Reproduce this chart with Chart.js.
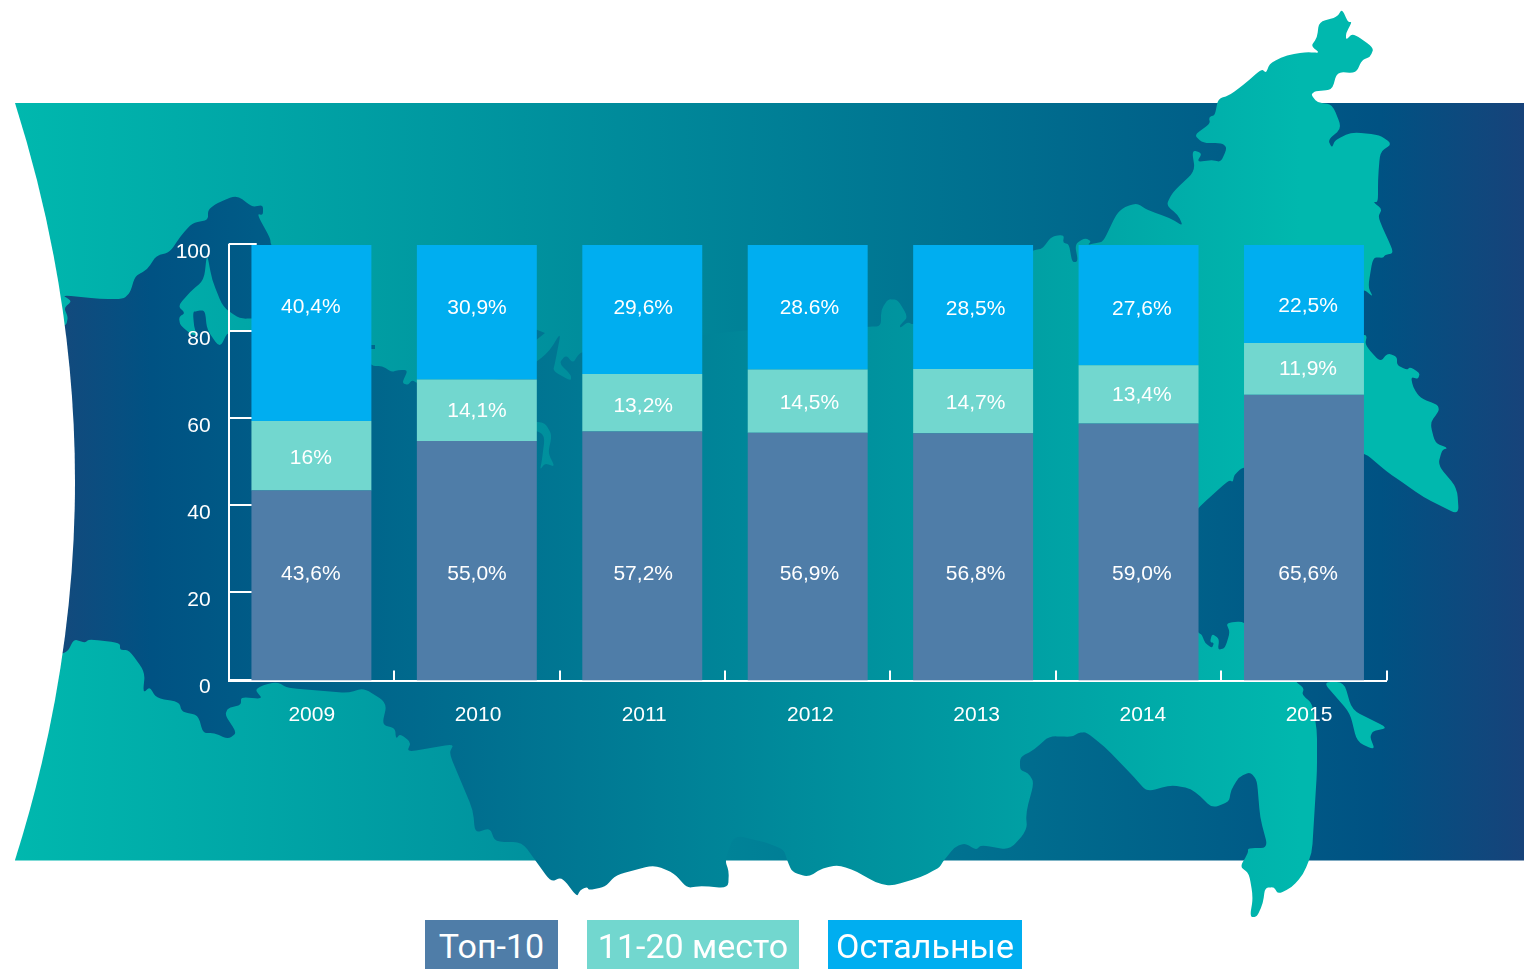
<!DOCTYPE html>
<html lang="ru">
<head>
<meta charset="utf-8">
<title>Доли рынка</title>
<script src="https://cdn.jsdelivr.net/npm/chart.js@4"></script>
<style>
html,body{margin:0;padding:0;background:#fff;width:1524px;height:969px;overflow:hidden}
#map,#c{position:absolute;left:0;top:0}
.lg{position:absolute;top:920px;height:49px;color:#fff;text-align:center;font:400 34px/53px Roboto,sans-serif;white-space:nowrap}
</style>
</head>
<body>
<svg id="map" width="1524" height="969" viewBox="0 0 1524 969" xmlns="http://www.w3.org/2000/svg">
<defs>
<linearGradient id="sea" gradientUnits="userSpaceOnUse" x1="15" y1="0" x2="1524" y2="0">
<stop offset="0" stop-color="#00b8ae"/><stop offset=".905" stop-color="#005283"/><stop offset="1" stop-color="#17437a"/>
</linearGradient>
<linearGradient id="land" gradientUnits="userSpaceOnUse" x1="65" y1="0" x2="1300" y2="0">
<stop offset="0" stop-color="#124a7d"/><stop offset=".07" stop-color="#005283"/><stop offset="1" stop-color="#00b8ae"/>
</linearGradient>
</defs>
<rect x="15" y="103" width="1509" height="757.5" fill="url(#sea)"/>
<polygon class="coast" fill="url(#land)" points="50,326 66,326 68,317 64,308 72,301 62,295 100,299 123,299 130,293 135,276 147,270 156,256 170,252 180,237 192,223 208,220 208,210 217,203 237,195 252,207 263,205 263,215 257,214 270,238 271,245 300,300 372,366 382,366 392,372 398,370 408,370 402,383 408,385 412,380 417,383 500,380 537,362 550,350 561,332 555,363 553,371 571,381 571,375 559,363 566,355 573,363 578,355 582,352 702,335 748,330 868,327 881,326 881,310 888,299 898,300 908,317 900,325 900,328 908,322 913,325 1033,250 1042,249 1052,236 1064,235 1063,243 1069,244 1072,262 1078,262 1075,244 1085,238 1091,241 1088,245 1095,243 1103,242 1117,213 1125,207 1137,203 1147,210 1170,218 1183,226 1178,215 1166,205 1173,192 1195,171 1192,150 1202,153 1197,162 1212,160 1221,162 1227,148 1222,143 1203,143 1194,135 1210,124 1209,117 1215,115 1218,99 1230,95 1243,85 1262,69 1266,73 1270,63 1287,55 1307,52 1320,53 1311,46 1317,38 1319,22 1337,17 1342,9 1348,22 1352,22 1346,33 1346,40 1353,33 1374,48 1370,57 1362,60 1356,73 1337,72 1332,90 1315,91 1311,95 1318,103 1332,104 1342,128 1328,140 1332,148 1335,140 1352,132 1380,135 1392,144 1380,152 1378,180 1378,202 1373,202 1382,209 1378,217 1385,233 1394,253 1385,255 1383,258 1373,257 1368,287 1373,297 1365,290 1360,292 1360,335 1367,335 1365,345 1380,362 1388,353 1397,357 1397,365 1407,370 1410,367 1420,373 1418,379 1411,377 1413,387 1420,398 1438,405 1439,411 1430,423 1435,443 1448,448 1442,450 1438,465 1457,488 1459,515 1423,497 1402,482 1387,472 1364,452 1300,460 1243,467 1234,475 1233,482 1229,480 1199,507 1190,520 1190,625 1199,633 1202,635 1205,643 1212,648 1214,643 1210,642 1212,634 1217,637 1219,640 1218,650 1225,648 1230,632 1226,623 1244,621 1280,660 1296,682 1304,688 1302,695 1312,703 1317,730 1317,770 1312,853 1303,875 1291,888 1278,894 1274,887 1265,888 1263,903 1257,917 1250,917 1253,897 1249,873 1240,867 1248,853 1248,848 1268,848 1260,817 1257,780 1250,772 1239,777 1231,790 1229,802 1212,808 1199,795 1189,788 1170,785 1147,792 1134,777 1105,747 1086,732 1078,733 1072,737 1049,736 1034,750 1020,757 1020,770 1028,773 1034,782 1026,813 1027,830 1010,850 981,845 976,850 965,843 955,847 944,860 939,868 921,877 892,886 876,883 858,872 839,865 823,868 808,877 792,872 787,860 784,850 768,843 734,835 725,860 729,872 728,888 700,886 687,888 674,873 654,865 616,875 605,887 589,890 587,887 580,890 577,897 562,877 551,882 522,842 495,842 490,828 475,833 473,810 449,753 454,744 407,752 411,742 400,734 396,739 395,728 382,725 387,703 364,688 348,693 288,688 277,682 263,685 255,690 263,699 241,697 241,705 228,708 225,715 237,733 228,739 214,733 203,733 198,715 182,712 179,702 156,698 150,687 143,693 145,672 129,650 120,650 120,643 89,639 85,643 74,639 67,653 50,655"/>
<polygon class="coast" fill="url(#land)" points="1323,682 1344,682 1352,710 1388,728 1373,731 1370,737 1375,750 1357,742 1350,713"/>
<polygon class="coast" fill="url(#sea)" points="207,253 204,280 190,292 178,306 185,313 179,317 180,325 192,335 197,335 194,327 193,312 197,311 205,310 207,330 220,348 228,331 260,331 260,318 240,319 223,307 212,280"/>
<polygon class="coast" fill="url(#sea)" points="530,421 545,423 552,435 548,453 555,467 545,463 540,470 542,460 545,435 530,428"/>
<polygon fill="url(#land)" points="530,327 545,333 530,345"/>
<rect x="370" y="345" width="5" height="4" fill="url(#land)"/>
<path fill="#fff" d="M0 100 L15 103 Q135 481.5 15 860 L0 860Z"/>
</svg>
<canvas id="c" width="1524" height="969"></canvas>
<script>
// ---- data ----
const years = ['2009', '2010', '2011', '2012', '2013', '2014', '2015'];
const seriesNames = ['Топ-10', '11-20 место', 'Остальные'];
const top10 = [43.6, 55.0, 57.2, 56.9, 56.8, 59.0, 65.6];
const place11to20 = [16, 14.1, 13.2, 14.5, 14.7, 13.4, 11.9];
const others = [40.4, 30.9, 29.6, 28.6, 28.5, 27.6, 22.5];
const top10Labels = ['43,6%', '55,0%', '57,2%', '56,9%', '56,8%', '59,0%', '65,6%'];
const place11to20Labels = ['16%', '14,1%', '13,2%', '14,5%', '14,7%', '13,4%', '11,9%'];
const othersLabels = ['40,4%', '30,9%', '29,6%', '28.6%', '28,5%', '27,6%', '22,5%'];
const yTicks = [0, 20, 40, 60, 80, 100];

// ---- where the printed labels sit, in axis units ----
const top10LabelLevels = [24.8, 24.8, 24.8, 24.8, 24.8, 24.8, 24.8];
const place11to20LabelLevels = [51.4, 62.2, 63.3, 64, 64, 65.8, 71.8];
const othersLabelLevels = [86, 85.8, 85.8, 85.8, 85.5, 85.5, 86.2];

// ---- styling ----
const colors = ['#4f7da8', '#72d7cf', '#00aef0'];
const font = {family: "'Liberation Sans', Arial, sans-serif", size: 21};
const legendBoxes = [[425, 133], [587, 212], [828, 194]];

// soften the straight runs of the decorative coastline
document.querySelectorAll('polygon.coast').forEach(poly => {
  const p = poly.getAttribute('points').trim().split(/\s+/).map(s => s.split(',').map(Number));
  const n = p.length;
  let d = '';
  p.forEach((c, i) => {
    const a = p[(i + n - 1) % n], b = p[(i + 1) % n];
    const la = Math.hypot(a[0] - c[0], a[1] - c[1]), lb = Math.hypot(b[0] - c[0], b[1] - c[1]);
    const ca = Math.min(la * 0.35, 9) / la, cb = Math.min(lb * 0.35, 9) / lb;
    const s = [c[0] + (a[0] - c[0]) * ca, c[1] + (a[1] - c[1]) * ca];
    const e = [c[0] + (b[0] - c[0]) * cb, c[1] + (b[1] - c[1]) * cb];
    d += (i ? 'L' : 'M') + s[0].toFixed(1) + ' ' + s[1].toFixed(1) +
      'Q' + c[0] + ' ' + c[1] + ' ' + e[0].toFixed(1) + ' ' + e[1].toFixed(1);
  });
  const path = document.createElementNS('http://www.w3.org/2000/svg', 'path');
  path.setAttribute('d', d + 'Z');
  path.setAttribute('fill', poly.getAttribute('fill'));
  poly.replaceWith(path);
});

const axisFurniture = {
  id: 'axisFurniture',
  afterLayout(chart) {
    // the year captions are spaced slightly wider than the bars in the source
    const s = chart.scales.xl;
    s.right = s.left + (chart.scales.x.right - chart.scales.x.left) * 1.0047;
    s.width = s.right - s.left;
    s.configure();
  },
  beforeDatasetsDraw(chart) {
    const {ctx, scales: {x, y}} = chart;
    ctx.save();
    ctx.strokeStyle = '#fff';
    ctx.lineWidth = 2;
    ctx.beginPath();
    yTicks.forEach(v => {
      const py = Math.round(y.getPixelForValue(v));
      ctx.moveTo(x.left, py - 1);
      ctx.lineTo(x.left + 28, py - 1);
    });
    const band = (x.right - x.left) / years.length;
    for (let i = 1; i <= years.length; i++) {
      const px = Math.round(x.getPixelForValue(i - 1) + band / 2);
      ctx.moveTo(px, y.bottom);
      ctx.lineTo(px, y.bottom - 10);
    }
    ctx.stroke();
    ctx.restore();
  },
  afterDatasetsDraw(chart) {
    const {ctx, scales: {xl, y}} = chart;
    ctx.save();
    ctx.fillStyle = '#fff';
    ctx.font = font.size + 'px ' + font.family;
    ctx.textAlign = 'center';
    ctx.textBaseline = 'middle';
    [[top10Labels, top10LabelLevels], [place11to20Labels, place11to20LabelLevels], [othersLabels, othersLabelLevels]]
      .forEach(([texts, levels]) => texts.forEach((t, i) => {
        ctx.fillText(t, xl.getPixelForValue(i) - 1, y.getPixelForValue(levels[i]) + 1.5);
      }));
    ctx.restore();
  }
};

new Chart(document.getElementById('c'), {
  type: 'bar',
  data: {
    labels: years,
    datasets: [top10, place11to20, others].map((d, i) => ({
      label: seriesNames[i],
      data: d,
      backgroundColor: colors[i],
      borderWidth: 0,
      categoryPercentage: 1,
      barPercentage: 0.725
    }))
  },
  plugins: [axisFurniture],
  options: {
    responsive: false,
    animation: false,
    layout: {padding: {left: 174.7, top: 245, right: 137.3, bottom: 238.5}},
    plugins: {legend: {display: false}, tooltip: {enabled: false}},
    scales: {
      x: {
        stacked: true,
        position: 'bottom',
        grid: {display: false, drawTicks: false},
        border: {display: true, color: '#fff', width: 2},
        ticks: {display: false}
      },
      xl: {
        type: 'category',
        axis: 'x',
        position: 'bottom',
        grid: {display: false, drawTicks: false},
        border: {display: false},
        ticks: {color: '#fff', font, padding: 22, maxRotation: 0, autoSkip: false},
        afterFit(s) { s.height = 50; }
      },
      y: {
        stacked: true,
        min: 0,
        max: 100,
        grid: {display: false, drawTicks: false},
        border: {display: true, color: '#fff', width: 2},
        ticks: {color: '#fff', font, stepSize: 20, padding: 18, labelOffset: 7},
        afterFit(s) { s.width = 54; }
      }
    }
  }
});

seriesNames.forEach((name, i) => {
  const d = document.createElement('div');
  d.className = 'lg';
  d.textContent = name;
  d.style.left = legendBoxes[i][0] + 'px';
  d.style.width = legendBoxes[i][1] + 'px';
  d.style.background = colors[i];
  document.body.appendChild(d);
});
</script>
</body>
</html>
